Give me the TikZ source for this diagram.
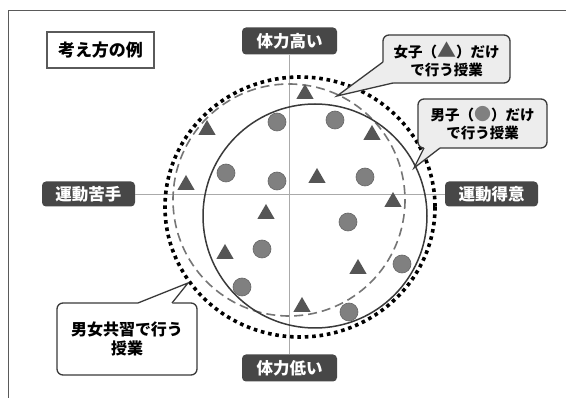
\documentclass[tikz,border=0pt]{standalone}
\usepackage{fontspec}
\setmainfont{Noto Sans CJK JP}
\usetikzlibrary{shapes.geometric}
\definecolor{labfill}{HTML}{474747}
\definecolor{framec}{HTML}{5A5A5A}
\definecolor{axisc}{HTML}{AAAAAA}
\definecolor{calfill}{HTML}{EDEDED}
\definecolor{calline}{HTML}{3A3A3A}
\definecolor{dotfill}{HTML}{808080}
\definecolor{dotline}{HTML}{666666}
\definecolor{trifill}{HTML}{555555}
\tikzset{
  labelbox/.style={fill=labfill, rounded corners=4pt, text=white, inner sep=0pt,
     font=\fontsize{16.5}{19}\selectfont\bfseries},
  titlebox/.style={draw=framec, line width=1.2pt, fill=white, inner sep=0pt,
     font=\fontsize{17}{20}\selectfont\bfseries},
  callbox/.style={draw=calline, line width=1.3pt, rounded corners=6pt, fill=calfill,
     inner sep=0pt, align=center, font=\fontsize{14.5}{18}\selectfont\bfseries},
  tailline/.style={draw=calline, line width=1.3pt, line join=miter},
  boy/.style={circle, fill=dotfill, draw=dotline, line width=0.6pt, minimum size=18pt, inner sep=0pt},
  girl/.style={regular polygon, regular polygon sides=3, fill=trifill, minimum size=20pt, inner sep=0pt},
  axisline/.style={draw=axisc, line width=0.8pt},
}
\begin{document}
\begin{tikzpicture}[x=1pt,y=-1pt]
\useasboundingbox (0,0) rectangle (566,398);
\fill[white] (0,0) rectangle (566,398);
\draw[framec, line width=1pt] (8,400) -- (8,11) -- (568,11);

% labels
\node[titlebox, minimum width=107pt, minimum height=36pt] (title) at (100.5,50) {考え方の例};
\node[labelbox, minimum width=95pt, minimum height=27pt] (hi) at (289.5,41) {体力高い};
\node[labelbox, minimum width=95pt, minimum height=27pt] (lo) at (289.5,368) {体力低い};
\node[labelbox, minimum width=93pt, minimum height=25pt] (weak) at (88.5,194) {運動苦手};
\node[labelbox, minimum width=93pt, minimum height=25pt] (good) at (491.5,194) {運動得意};

% axes
\draw[axisline] (weak.east) -- (good.west);
\draw[axisline] (hi.south) -- (lo.north);

% circles
\draw[black, line width=3.6pt, dash pattern=on 3.6pt off 3.8pt] (300,207) ellipse [x radius=135, y radius=130];
\draw[color=dotline!90!white, line width=1.6pt, dash pattern=on 9pt off 5pt] (289,200) circle [radius=116];
\draw[color=calline, line width=1.5pt] (315,216) circle [radius=112];

% markers: girls (triangles)
\node[girl] (g1) at (305,94) {};
\node[girl] (g2) at (207,130) {};
\node[girl] (g3) at (372,135) {};
\node[girl] (g4) at (317,178) {};
\node[girl] (g5) at (186,185) {};
\node[girl] (g6) at (393,202) {};
\node[girl] (g7) at (266,214) {};
\node[girl] (g8) at (225,254) {};
\node[girl] (g9) at (358,269) {};
\node[girl] (g10) at (302,307) {};
% boys (circles)
\node[boy] (b1) at (277,122) {};
\node[boy] (b2) at (335,120) {};
\node[boy] (b3) at (226,173) {};
\node[boy] (b4) at (277,181) {};
\node[boy] (b5) at (365,177) {};
\node[boy] (b6) at (348,222) {};
\node[boy] (b7) at (262,249) {};
\node[boy] (b8) at (402,264) {};
\node[boy] (b9) at (242,287) {};
\node[boy] (b10) at (349,312) {};

% callout 1: girls only
\node[callbox, minimum width=127pt, minimum height=48pt] (cg) at (446.5,59)
  {女子（{\fontsize{19}{18}\selectfont\color{trifill}▲}）だけ\\で行う授業};
\coordinate (cgtip) at (337,96);
\fill[calfill] (383,62) -- (cgtip) -- (393,83) -- (393,80.5) -- (385.5,80.5) -- (385.5,62) -- cycle;
\draw[tailline] (383,62) -- (cgtip) -- (393,83);

% callout 2: boys only
\node[callbox, minimum width=129pt, minimum height=49pt] (cb) at (482.5,123.5)
  {男子（{\fontsize{17}{18}\selectfont\color{dotfill}●}）だけ\\で行う授業};
\coordinate (cbtip) at (414,168);
\fill[calfill] (424,147) -- (cbtip) -- (440,147) -- cycle;
\fill[calfill] (424,146) rectangle (440,149.5);
\draw[tailline] (424,148) -- (cbtip) -- (440,148);

% callout 3: mixed
\node[callbox, fill=white, minimum width=140pt, minimum height=72pt, font=\fontsize{16}{19}\selectfont\bfseries] (cm) at (127,339)
  {男女共習で行う\\授業};
\coordinate (cmtip) at (188,283);
\fill[white] (138,304) -- (cmtip) -- (172,304) -- cycle;
\fill[white] (138,301.5) rectangle (172,305);
\draw[tailline] (138,303) -- (cmtip) -- (172,303);
\end{tikzpicture}
\end{document}
